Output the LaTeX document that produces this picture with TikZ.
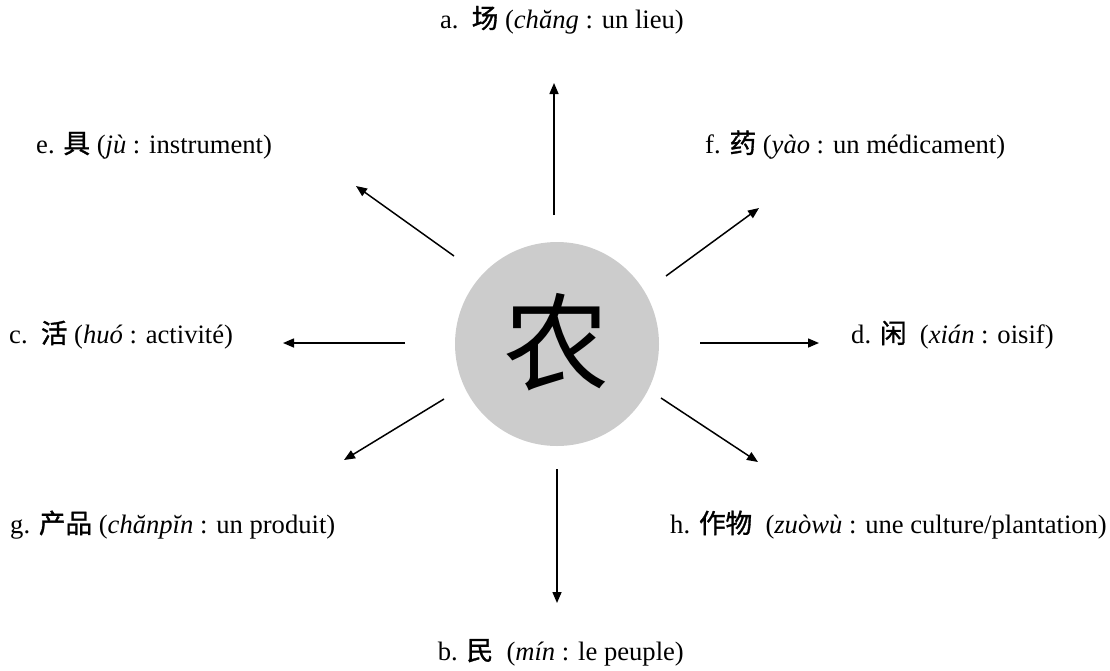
\documentclass[tikz,border=0pt]{standalone}
\usepackage{fontspec}
\setmainfont{Liberation Serif}
\newfontfamily\cjk{Noto Sans CJK SC}
\newfontfamily\cjkb[FakeBold=1.2]{Noto Sans CJK SC}
\usetikzlibrary{arrows.meta}
\tikzset{
  lbl/.style={anchor=base west, inner sep=0pt, font=\fontsize{26.6}{30}\selectfont},
  lblr/.style={lbl, anchor=base east},
  arr/.style={line width=1.5pt, -{Triangle[length=11pt,width=9pt]}},
  hub/.style={circle, fill=black!20, minimum size=204pt, inner sep=0pt}
}
\begin{document}
\begin{tikzpicture}[x=1pt,y=-1pt]
\useasboundingbox (0,0) rectangle (1110,670);
\node[hub] (hub) at (557,344) {};
\node[inner sep=0pt, font=\fontsize{106}{110}\selectfont\cjk] (nong) at (556,342) {农};

\node[lblr] (a) at (684,28) {a.\ \ {\cjkb 场} (\textit{chăng} : un lieu)};
\node[lbl] (e) at (36,153) {e. {\cjkb 具} (\textit{jù} : instrument)};
\node[lbl] (f) at (705,153) {f. {\cjkb 药} (\textit{yào} : un médicament)};
\node[lbl] (c) at (9,343) {c.\ \ {\cjkb 活} (\textit{huó} : activité)};
\node[lbl] (d) at (851,343) {d. {\cjkb 闲}\ \ (\textit{xián} : oisif)};
\node[lbl] (g) at (10,533) {g. {\cjkb 产品} (\textit{chănpĭn} : un produit)};
\node[lblr] (h) at (1107,533) {h. {\cjkb 作物}\ \ (\textit{zuòwù} : une culture/plantation)};
\node[lblr] (b) at (684,660) {b. {\cjkb 民}\ \ (\textit{mín} : le peuple)};

\coordinate (s1) at (554,215); \coordinate (t1) at (554,83);
\coordinate (s2) at (557,469); \coordinate (t2) at (557,603);
\coordinate (s3) at (405,343); \coordinate (t3) at (283,343);
\coordinate (s4) at (700,343); \coordinate (t4) at (819,343);
\coordinate (s5) at (454,256); \coordinate (t5) at (356,186);
\coordinate (s6) at (666,276); \coordinate (t6) at (759,208);
\coordinate (s7) at (444,399); \coordinate (t7) at (344,460);
\coordinate (s8) at (661,398); \coordinate (t8) at (758,462);
\foreach \i in {1,...,8} \draw[arr] (s\i) -- (t\i);
\end{tikzpicture}
\end{document}
